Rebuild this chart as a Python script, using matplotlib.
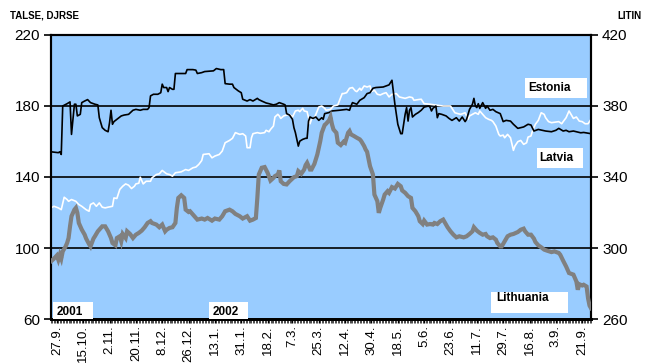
import matplotlib
matplotlib.use("Agg")
import matplotlib.pyplot as plt
import matplotlib.dates as mdates
import matplotlib.patches as mpatches
import pandas as pd

plt.rcParams['font.family'] = ['Liberation Sans', 'DejaVu Sans']

start_date = "2001-09-23"
end_date = "2002-09-27"

# Estonia (TALSE, left axis)
est_days = [0, 5, 6, 7, 8, 11, 13, 14, 16, 17, 18, 20, 21, 23, 25, 27, 30, 32, 33, 35, 37, 39, 40, 41, 42, 43,
            45, 48, 50, 53, 56, 58, 61, 63, 66, 67, 68, 70, 73, 75, 76, 77, 79, 80, 81, 83, 84, 85, 92, 93, 97,
            99, 100, 103, 105, 111, 113, 116, 118, 119, 122, 124, 125, 128, 130, 131, 134, 136, 138, 141, 142,
            144, 147, 149, 152, 154, 156, 159, 160, 161, 163, 165, 166, 167, 169, 170, 172, 174, 175, 176, 177,
            179, 181, 183, 185, 186, 187, 190, 192, 197, 202, 204, 205, 206, 209, 211, 214, 216, 218, 220, 222,
            227, 229, 231, 233, 234, 235, 236, 237, 239, 240, 242, 243, 244, 245, 246, 247, 249, 251, 253, 255,
            258, 259, 260, 261, 263, 264, 265, 267, 270, 272, 274, 277, 279, 281, 283, 284, 285, 286, 288, 289,
            290, 291, 292, 293, 295, 297, 298, 300, 302, 304, 307, 309, 311, 314, 316, 319, 321, 323, 326, 328,
            330, 333, 338, 342, 345, 347, 350, 352, 354, 357, 359, 362, 364, 366, 369]
est_vals = [154.2, 153.7, 154.2, 152.7, 180.0, 181.3, 182.3, 164.0, 181.0, 181.0, 174.4, 175.3, 181.9, 182.8,
            183.6, 181.9, 181.0, 180.6, 173.4, 167.8, 166.3, 165.5, 170.6, 177.6, 169.7, 171.2, 172.5, 174.4,
            174.9, 175.3, 177.6, 178.1, 177.6, 178.1, 178.1, 179.1, 185.7, 186.6, 186.6, 187.5, 192.3, 190.4,
            190.4, 188.1, 190.4, 189.4, 189.4, 198.3, 198.3, 200.5, 200.5, 200.2, 198.3, 198.8, 199.4, 199.8,
            201.1, 200.5, 200.5, 192.6, 192.3, 192.3, 190.4, 188.5, 187.5, 183.8, 182.8, 183.6, 182.8, 184.3,
            183.6, 182.8, 181.7, 181.3, 180.6, 181.0, 181.9, 181.0, 180.6, 175.7, 174.9, 172.5, 167.8, 165.0,
            157.4, 160.2, 161.2, 161.8, 161.8, 171.5, 173.8, 173.0, 173.8, 171.9, 173.4, 172.5, 175.7, 176.3,
            177.2, 177.6, 178.1, 177.6, 180.0, 181.9, 181.0, 183.2, 184.7, 187.0, 187.5, 190.0, 190.4, 190.7,
            191.3, 191.9, 194.5, 187.5, 181.0, 175.3, 169.7, 164.4, 164.4, 175.3, 179.1, 171.5, 177.6, 179.1,
            173.8, 175.3, 176.3, 177.6, 179.4, 180.0, 179.4, 177.2, 178.7, 180.0, 173.4, 175.7, 175.3, 174.4,
            173.0, 171.9, 173.4, 171.5, 173.8, 171.2, 172.5, 175.3, 178.1, 181.0, 184.3, 180.0, 179.1, 181.3,
            178.7, 181.9, 178.7, 180.0, 177.6, 178.1, 176.8, 175.7, 171.2, 171.9, 171.5, 169.7, 167.4, 167.8,
            168.2, 169.7, 169.3, 165.9, 166.8, 165.9, 165.5, 166.3, 167.4, 165.9, 166.3, 165.5, 165.9, 165.5,
            164.9, 165.1, 164.8, 164.4]

# Latvia (DJRSE, left axis)
lat_days = [0, 2, 5, 7, 9, 11, 12, 14, 17, 19, 21, 24, 26, 27, 29, 31, 33, 35, 37, 39, 42, 43, 45, 47, 49, 51,
            53, 55, 57, 58, 60, 61, 63, 65, 68, 69, 72, 74, 76, 79, 81, 83, 85, 89, 92, 94, 97, 99, 101, 103,
            104, 108, 110, 112, 115, 117, 119, 122, 124, 126, 129, 131, 133, 134, 136, 137, 138, 141, 143, 146,
            147, 149, 150, 152, 153, 155, 156, 157, 159, 161, 163, 165, 167, 169, 170, 172, 173, 175, 177, 178,
            180, 181, 183, 185, 187, 188, 191, 193, 196, 197, 199, 200, 202, 204, 206, 208, 209, 211, 212, 214,
            216, 218, 219, 221, 223, 225, 227, 229, 231, 233, 236, 238, 240, 242, 245, 247, 248, 251, 253, 255,
            259, 264, 268, 273, 276, 278, 280, 283, 285, 286, 288, 290, 292, 293, 295, 297, 299, 301, 302, 304,
            306, 307, 309, 310, 312, 314, 316, 317, 319, 321, 323, 325, 326, 328, 329, 331, 333, 335, 337, 338,
            340, 342, 347, 349, 350, 352, 354, 356, 357, 359, 361, 363, 365, 367, 369]
lat_vals = [122.6, 123.5, 122.6, 121.6, 128.6, 127.3, 126.3, 127.3, 126.3, 124.5, 123.5, 121.6, 120.7, 124.5,
            125.4, 123.5, 125.4, 123.0, 122.6, 123.0, 123.5, 128.2, 127.9, 133.0, 134.8, 136.1, 135.4, 133.5,
            134.8, 136.1, 136.5, 139.9, 136.1, 137.6, 137.6, 139.5, 141.4, 141.8, 143.7, 141.8, 141.4, 140.5,
            142.4, 142.9, 144.2, 143.7, 145.2, 145.6, 147.1, 149.3, 152.7, 153.1, 150.8, 151.8, 152.7, 154.6,
            159.3, 160.6, 161.8, 165.0, 164.0, 164.4, 163.1, 156.5, 156.5, 162.1, 164.4, 165.0, 164.6, 165.0,
            166.3, 165.5, 166.8, 168.7, 173.8, 175.3, 174.4, 173.0, 174.4, 174.9, 175.3, 173.8, 177.2, 177.6,
            176.8, 178.7, 177.2, 176.8, 170.0, 172.5, 173.4, 175.3, 179.4, 180.0, 178.7, 177.6, 178.1, 180.0,
            180.6, 182.8, 187.0, 187.0, 187.5, 190.0, 190.4, 188.5, 188.1, 190.0, 188.9, 191.3, 190.7, 191.3,
            188.1, 188.9, 186.6, 186.2, 187.0, 187.5, 185.1, 186.6, 187.0, 185.1, 184.7, 184.3, 185.1, 184.7,
            183.2, 183.6, 183.8, 181.3, 181.0, 180.4, 180.0, 180.0, 176.2, 175.7, 175.3, 176.2, 172.5, 174.4,
            175.3, 176.2, 175.3, 177.2, 175.3, 173.4, 172.5, 171.9, 171.2, 168.7, 164.0, 163.1, 163.6, 162.1,
            164.0, 162.1, 155.0, 157.4, 159.9, 160.6, 158.4, 159.3, 162.5, 163.1, 165.9, 169.7, 171.9, 176.2,
            175.3, 173.4, 171.2, 170.6, 171.2, 170.0, 171.2, 173.4, 177.2, 174.4, 173.0, 173.8, 171.5, 171.2,
            170.0, 170.0, 172.5]

# Lithuania (LITIN, right axis)
lit_days = [0, 2, 4, 5, 6, 7, 8, 10, 11, 12, 13, 14, 16, 17, 18, 19, 21, 23, 24, 26, 27, 29, 30, 32, 35, 37,
            39, 41, 42, 44, 45, 47, 48, 49, 51, 52, 54, 56, 58, 60, 62, 64, 66, 68, 69, 72, 74, 76, 78, 79, 81,
            83, 85, 86, 87, 89, 91, 92, 94, 95, 97, 99, 100, 103, 105, 107, 110, 112, 115, 117, 119, 122, 124,
            126, 129, 131, 134, 136, 138, 140, 141, 142, 144, 146, 148, 150, 152, 153, 155, 156, 157, 159, 161,
            163, 166, 168, 169, 171, 173, 174, 175, 177, 178, 180, 182, 184, 185, 187, 188, 190, 191, 192, 193,
            195, 196, 198, 200, 201, 203, 204, 205, 207, 209, 211, 212, 214, 215, 216, 218, 220, 221, 222, 223,
            224, 225, 227, 228, 230, 231, 233, 235, 237, 239, 240, 242, 244, 246, 247, 249, 251, 252, 254, 255,
            257, 259, 261, 262, 264, 266, 268, 270, 271, 273, 275, 277, 279, 282, 284, 286, 288, 289, 291, 293,
            295, 297, 298, 300, 302, 304, 305, 307, 308, 310, 312, 314, 316, 319, 321, 323, 324, 326, 328, 330,
            331, 333, 335, 337, 339, 342, 344, 347, 348, 350, 352, 354, 356, 357, 359, 360, 361, 363, 364, 366,
            367, 368, 369]
lit_vals = [292.5, 294.0, 295.8, 293.4, 296.2, 294.0, 298.1, 300.9, 302.8, 305.6, 312.2, 317.9, 321.6, 322.6,
            319.8, 314.1, 310.4, 307.5, 305.3, 302.2, 300.9, 305.3, 306.6, 309.4, 312.2, 312.2, 309.4, 305.6,
            302.8, 301.5, 305.6, 306.6, 303.8, 307.9, 305.6, 309.4, 307.9, 305.6, 307.5, 308.5, 309.8, 311.7,
            314.1, 315.1, 314.1, 313.2, 311.7, 313.2, 309.4, 310.3, 311.3, 311.7, 314.1, 322.6, 328.2, 329.7,
            328.2, 321.6, 320.3, 320.7, 318.8, 316.9, 316.0, 316.6, 316.0, 316.9, 315.4, 316.6, 316.0, 317.9,
            320.7, 321.6, 320.7, 319.2, 317.9, 316.6, 317.9, 315.4, 316.0, 316.9, 328.2, 341.4, 345.2, 345.6,
            342.4, 338.0, 339.5, 340.5, 341.4, 343.7, 337.6, 336.1, 335.8, 337.6, 339.9, 340.5, 343.3, 341.8,
            344.2, 346.7, 348.0, 344.2, 344.2, 347.4, 352.7, 360.2, 364.9, 369.3, 370.0, 371.9, 373.8, 369.7,
            366.8, 364.9, 359.3, 358.0, 359.9, 359.3, 364.9, 365.9, 364.0, 363.1, 362.1, 361.2, 360.2, 357.4,
            355.5, 354.2, 346.1, 341.4, 330.1, 328.2, 326.4, 319.8, 322.6, 327.3, 330.1, 332.0, 331.1, 334.3,
            333.5, 336.1, 334.8, 332.4, 331.1, 329.2, 328.2, 322.6, 320.7, 317.9, 315.1, 313.5, 315.4, 313.2,
            313.5, 313.2, 314.1, 313.5, 315.1, 316.0, 313.2, 311.7, 309.4, 307.5, 306.0, 306.6, 306.0, 306.6,
            307.9, 309.4, 311.7, 309.8, 308.5, 307.5, 307.9, 306.6, 305.6, 306.0, 304.7, 302.8, 300.9, 300.9,
            303.8, 306.6, 307.5, 307.9, 309.0, 310.3, 310.9, 309.4, 307.5, 307.5, 305.3, 303.4, 301.5, 300.4,
            299.1, 298.5, 297.7, 298.1, 297.2, 296.2, 292.8, 289.6, 285.9, 285.3, 285.0, 281.2, 276.5, 279.6,
            278.9, 279.3, 278.3, 271.7, 267.6, 266.1]

tick_dates = ["2001-09-27", "2001-10-15", "2001-11-02", "2001-11-20", "2001-12-08", "2001-12-26",
              "2002-01-13", "2002-01-31", "2002-02-18", "2002-03-07", "2002-03-25", "2002-04-12",
              "2002-04-30", "2002-05-18", "2002-06-05", "2002-06-23", "2002-07-11", "2002-07-29",
              "2002-08-16", "2002-09-03", "2002-09-21"]
tick_labels = ["27.9.", "15.10.", "2.11.", "20.11.", "8.12.", "26.12.", "13.1.", "31.1.", "18.2.", "7.3.",
               "25.3.", "12.4.", "30.4.", "18.5.", "5.6.", "23.6.", "11.7.", "29.7.", "16.8.", "3.9.", "21.9."]

left_ticks = [60, 100, 140, 180, 220]
right_ticks = [260, 300, 340, 380, 420]
grid_levels = [100, 140, 180]

t0 = pd.Timestamp(start_date)
to_dates = lambda d: t0 + pd.to_timedelta(d, unit="D")

fig = plt.figure(figsize=(6.49, 3.63), dpi=100)
ax = fig.add_axes([0.0786, 0.1212, 0.832, 0.7824])
ax.set_facecolor("#99CCFF")
for lv in grid_levels:
    ax.axhline(lv, color="black", lw=1.2, zorder=1)

ax.plot(to_dates(lat_days), lat_vals, color="white", lw=1.2, zorder=3)
ax.plot(to_dates(est_days), est_vals, color="black", lw=1.2, zorder=4)

ax.set_ylim(60, 220)
ax.set_yticks(left_ticks)
ax.set_xlim(t0, pd.Timestamp(end_date))
ax.set_xticks(pd.to_datetime(tick_dates))
ax.set_xticklabels(tick_labels, rotation=90, fontsize=9.5)
ax.xaxis.set_minor_locator(mdates.DayLocator())
ax.tick_params(axis="x", which="major", length=3, width=1, pad=1.5, direction="out")
ax.tick_params(axis="x", which="minor", length=3, width=0.5, direction="out")
ax.tick_params(axis="y", which="major", length=5, width=1.2, labelsize=11, pad=3)

ax2 = ax.twinx()
ax2.plot(to_dates(lit_days), lit_vals, color="#808080", lw=3.0, zorder=5, solid_joinstyle="miter")
ax2.set_ylim(260, 420)
ax2.set_yticks(right_ticks)
ax2.tick_params(axis="y", which="major", length=5, width=1.2, labelsize=11, pad=3)

for a in (ax, ax2):
    for s in a.spines.values():
        s.set_color("black")
        s.set_linewidth(1.5)
    a.spines["bottom"].set_linewidth(2)

# label boxes (axes fraction coordinates)
boxes = [
    ("Estonia", 0.878, 0.778, 0.115, 0.071, 0.883, 0.813),
    ("Latvia", 0.900, 0.532, 0.085, 0.070, 0.904, 0.567),
    ("Lithuania", 0.815, 0.021, 0.142, 0.074, 0.824, 0.074),
    ("2001", 0.004, 0.0, 0.074, 0.06, 0.011, 0.025),
    ("2002", 0.293, 0.0, 0.072, 0.06, 0.300, 0.025),
]
for txt, bx, by, bw, bh, tx, ty in boxes:
    ax2.add_patch(mpatches.Rectangle((bx, by), bw, bh, transform=ax2.transAxes,
                                     facecolor="white", edgecolor="none", zorder=10))
    ax2.text(tx, ty, txt, transform=ax2.transAxes, fontsize=8.5, fontweight="bold",
             ha="left", va="center", zorder=11)

fig.text(10 / 649, 1 - 16 / 363, "TALSE, DJRSE", fontsize=7, fontweight="bold", ha="left", va="center")
fig.text(641 / 649, 1 - 16 / 363, "LITIN", fontsize=7, fontweight="bold", ha="right", va="center")

fig.savefig("out.png", dpi=100)
